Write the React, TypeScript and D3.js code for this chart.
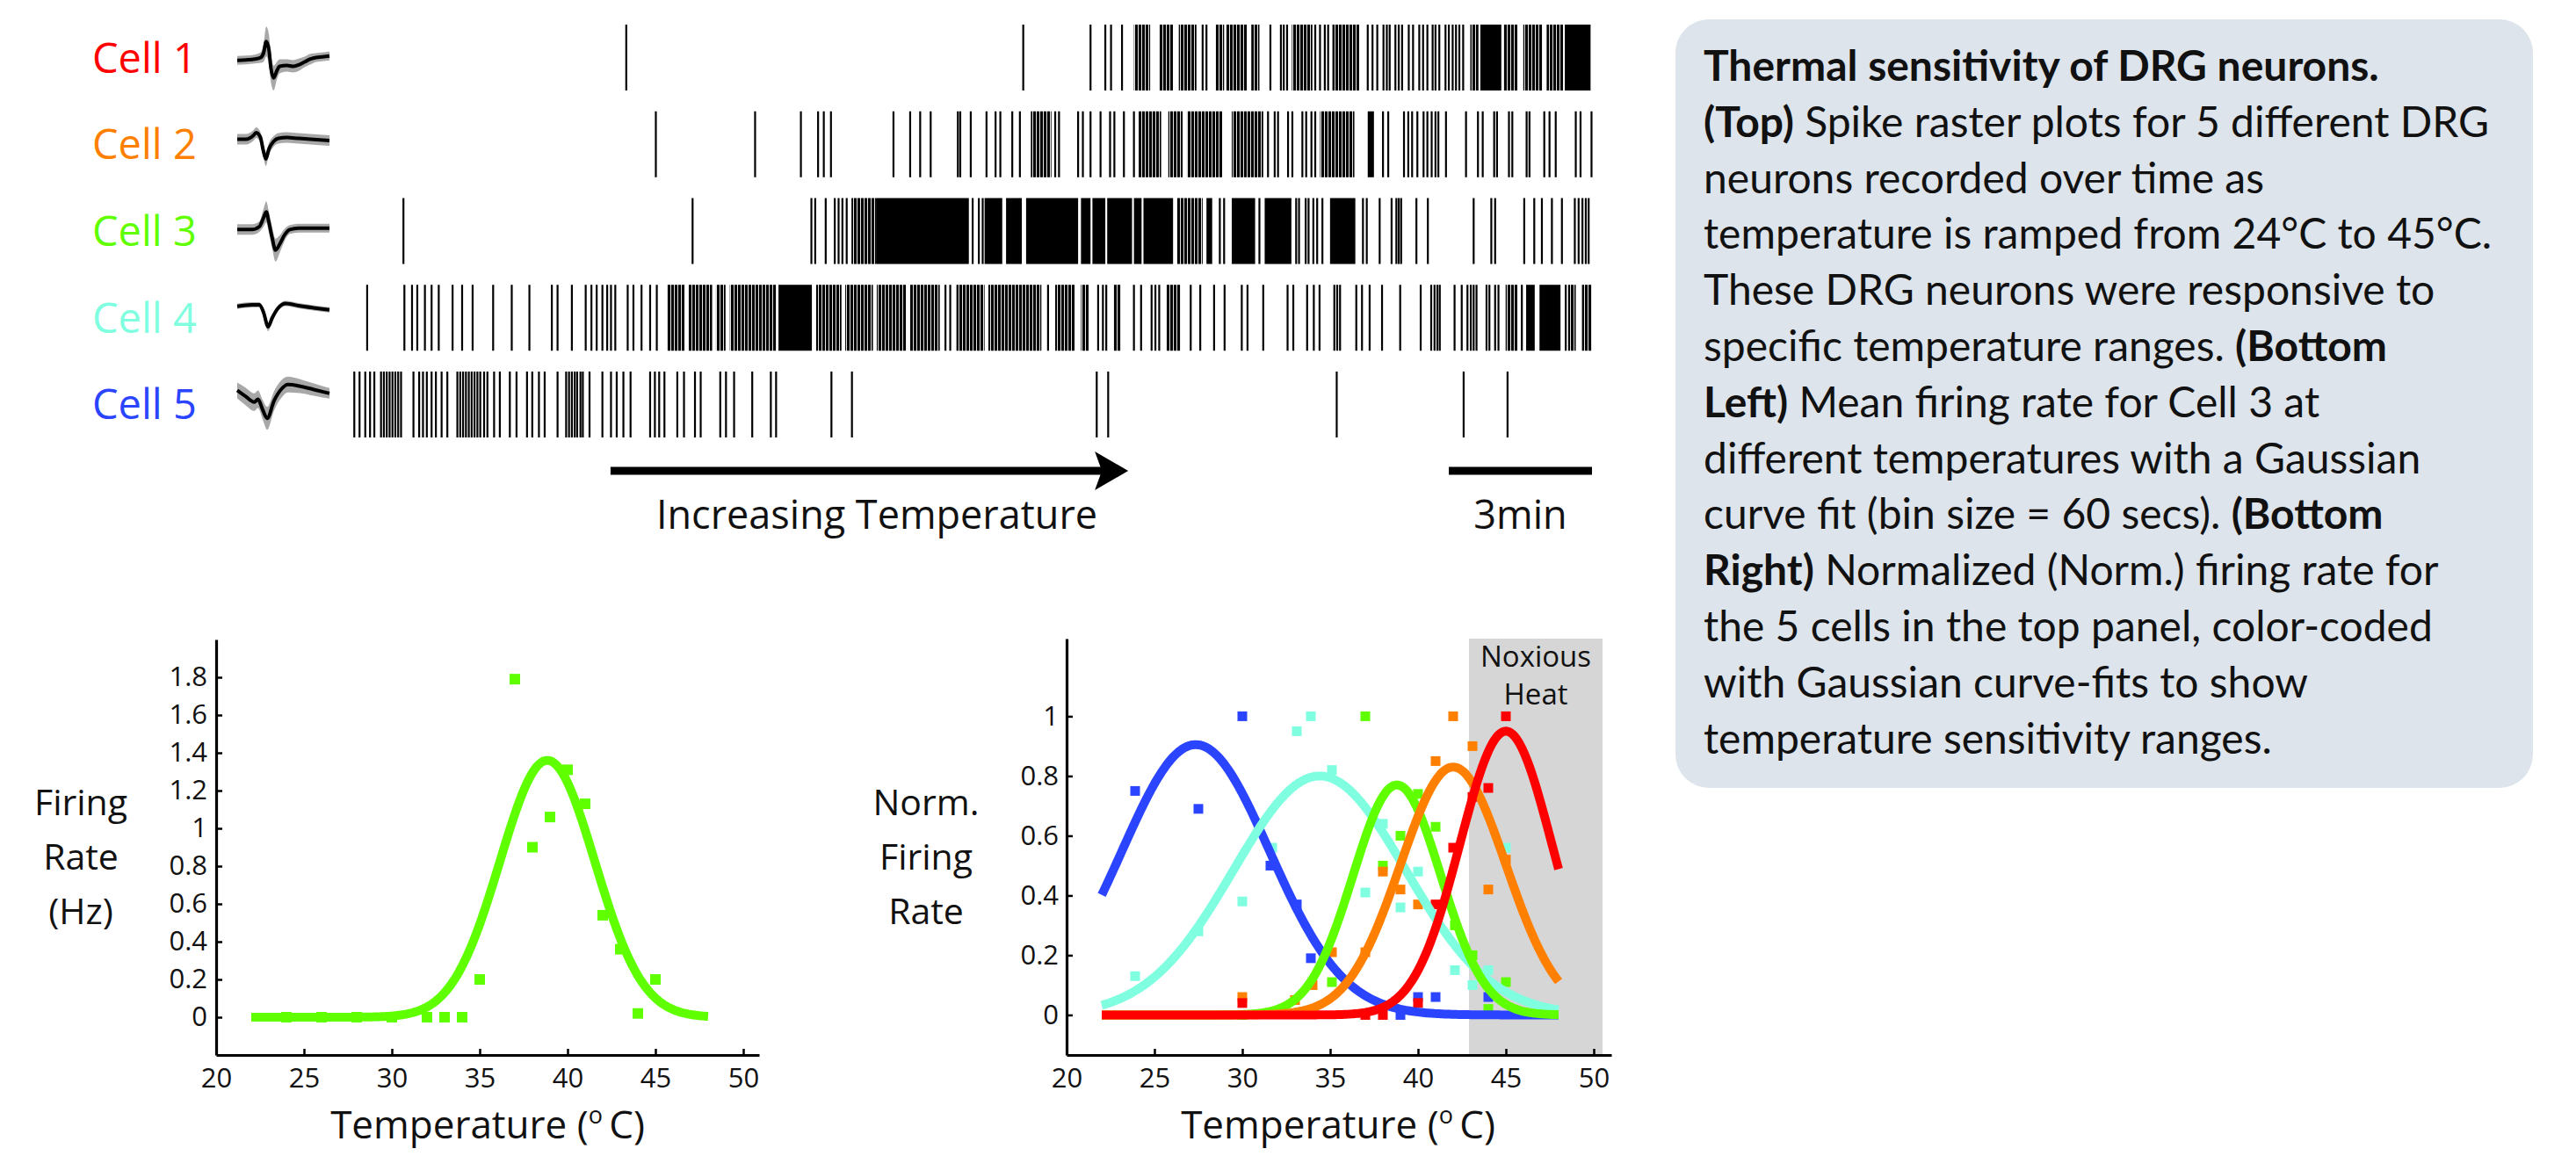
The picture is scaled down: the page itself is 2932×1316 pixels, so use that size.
import React, { useEffect, useRef } from "react";
import * as d3 from "d3";

// cells, colours
const cellNames = ["Cell 1", "Cell 2", "Cell 3", "Cell 4", "Cell 5"];
const cellColors = ["#ff0000", "#ff7f00", "#5fff00", "#7fffe0", "#2a44ff"];

// spike times (minutes) for the raster: single spikes, solid bursts and dense runs [start, end]
const cell1Spikes = [5.76, 14.08, 15.49, 15.8, 15.92, 16.15, 17.84, 17.92, 19.26, 19.48, 19.54, 19.61, 20.2, 20.3, 20.4, 20.47, 21.3, 21.4, 21.5, 21.63, 21.7, 21.76, 21.88, 21.95, 22.02, 22.16, 22.25, 22.38, 22.46, 22.55, 22.66, 22.72, 22.8, 22.93, 23.0, 23.08, 23.15, 23.22, 23.3];
const cell1Solid = [[23.66, 24.1], [25.43, 25.97]];
const cell1Dense = [[16.4, 16.74], [16.93, 17.22], [17.34, 17.71], [18.11, 18.29], [18.33, 18.78], [18.86, 19.03], [19.71, 20.14], [20.56, 21.12], [23.45, 23.62], [24.14, 24.44], [24.56, 24.96], [25.05, 25.4]];

const cell2Spikes = [6.38, 8.46, 9.42, 9.78, 9.9, 10.05, 11.36, 11.71, 11.92, 12.14, 12.71, 12.76, 12.98, 13.31, 13.5, 13.6, 13.85, 14.01, 14.75, 14.83, 15.23, 15.33, 15.49, 15.7, 15.9, 15.99, 16.19, 16.4, 19.21, 19.35, 19.42, 19.63, 19.72, 19.93, 20.01, 20.12, 20.2, 21.62, 21.73, 22.06, 22.15, 22.23, 22.34, 22.47, 22.55, 22.64, 22.72, 22.78, 22.94, 23.36, 23.61, 23.71, 23.95, 24.01, 24.26, 24.33, 24.63, 24.69, 25.0, 25.11, 25.24, 25.66, 25.76, 25.99];
const cell2Solid = [[21.3, 21.43]];
const cell2Dense = [[14.24, 14.67], [16.5, 16.97], [17.12, 17.42], [17.51, 18.25], [18.45, 19.11], [20.3, 21.02]];

const cell3Spikes = [1.09, 7.15, 9.64, 9.72, 9.94, 10.13, 10.21, 10.29, 10.38, 13.02, 13.15, 13.23, 18.2, 18.29, 19.03, 19.8, 19.86, 20.0, 20.06, 20.16, 20.24, 20.35, 21.2, 21.28, 21.55, 21.8, 21.9, 21.95, 22.0, 22.32, 22.56, 23.52, 23.89, 23.97, 24.58, 24.79, 24.95, 25.16, 25.37, 25.64, 25.72, 25.8, 25.87, 25.93];
const cell3Solid = [[11.01, 12.94], [13.27, 13.64], [13.72, 14.05], [14.14, 15.23], [15.29, 15.49], [15.53, 15.8], [15.84, 16.36], [16.4, 16.56], [16.6, 17.22], [17.92, 18.04], [18.45, 18.94], [19.14, 19.7], [20.51, 21.04]];
const cell3Dense = [[10.48, 11.01], [17.3, 17.84]];

const cell4Spikes = [0.33, 1.11, 1.27, 1.38, 1.54, 1.68, 1.83, 2.12, 2.32, 2.54, 2.97, 3.36, 3.73, 4.2, 4.32, 4.62, 4.91, 5.03, 5.14, 5.26, 5.36, 5.44, 5.53, 5.79, 5.91, 6.08, 6.26, 6.4, 12.45, 12.55, 14.6, 15.65, 15.75, 15.82, 16.4, 16.55, 16.77, 16.85, 16.93, 17.59, 17.79, 18.08, 18.3, 18.66, 18.78, 19.11, 19.62, 19.74, 20.03, 20.17, 20.29, 20.6, 20.66, 20.72, 21.06, 21.18, 21.34, 21.6, 21.98, 22.41, 22.63, 22.7, 22.76, 22.81, 23.12, 23.27, 23.39, 23.46, 23.52, 23.58, 23.79, 23.85, 23.97, 24.04, 24.53, 25.32, 25.45];
const cell4Solid = [[8.95, 9.65], [24.62, 24.8], [24.9, 25.3]];
const cell4Dense = [[6.61, 6.98], [7.06, 7.56], [7.64, 7.84], [7.93, 8.91], [9.74, 10.27], [10.35, 10.93], [11.01, 11.63], [11.71, 12.33], [12.68, 13.27], [13.35, 14.46], [14.75, 15.16], [15.29, 15.45], [15.97, 16.13], [17.08, 17.38], [24.19, 24.44], [25.5, 25.66], [25.79, 26.0]];

const cell5Spikes = [0.06, 0.17, 0.29, 0.39, 0.48, 0.62, 0.68, 0.74, 0.8, 0.86, 0.92, 0.98, 1.04, 1.3, 1.42, 1.5, 1.58, 1.68, 1.77, 1.89, 2.01, 2.22, 2.28, 2.34, 2.4, 2.46, 2.52, 2.58, 2.64, 2.7, 2.78, 2.85, 2.99, 3.11, 3.32, 3.46, 3.68, 3.79, 3.93, 4.05, 4.32, 4.5, 4.56, 4.62, 4.68, 4.73, 4.8, 4.85, 4.99, 5.26, 5.44, 5.56, 5.7, 5.85, 6.26, 6.36, 6.45, 6.56, 6.83, 6.97, 7.2, 7.32, 7.73, 7.85, 8.02, 8.4, 8.79, 8.9, 10.06, 10.49, 15.62, 15.86, 20.65, 23.31, 24.23];
const cell5Solid: number[][] = [];
const cell5Dense: number[][] = [];

const rasterSpikes = [cell1Spikes, cell2Spikes, cell3Spikes, cell4Spikes, cell5Spikes];
const rasterSolid = [cell1Solid, cell2Solid, cell3Solid, cell4Solid, cell5Solid];
const rasterDense = [cell1Dense, cell2Dense, cell3Dense, cell4Dense, cell5Dense];

// mean spike waveforms: [ms, amplitude, spread]
const wave1 = [[0, -3.3, 5], [0.19, -2.7, 5], [0.38, -1.7, 5], [0.51, 0, 6], [0.57, 5, 10], [0.63, 18.3, 17], [0.69, 8.3, 17], [0.73, -11.7, 16], [0.79, -23.3, 14], [0.86, -15, 10], [0.92, -10, 8], [1.08, -9, 7], [1.21, -10, 7], [1.33, -8.3, 7], [1.46, -5, 6], [1.59, -1.7, 6], [1.71, 0, 5], [1.84, 0.7, 5], [2, 1.7, 5]];
const wave2 = [[0, 5.7, 6], [0.19, 5.7, 6], [0.35, 10, 6], [0.41, 13.3, 6], [0.5, 8.3, 6], [0.57, -8.3, 7], [0.62, -16.7, 8], [0.69, -5, 7], [0.79, 3.3, 6], [0.89, 6.7, 6], [1.08, 7.7, 6], [1.33, 6.7, 6], [1.59, 5.7, 6], [2, 4.3, 6]];
const wave3 = [[0, 1.7, 6], [0.32, 1.7, 6], [0.48, 5, 6], [0.57, 15, 10], [0.63, 21.7, 12], [0.68, 11.7, 12], [0.76, -8.3, 12], [0.83, -21.7, 13], [0.92, -15, 10], [1.02, -5, 7], [1.14, 1.7, 5], [1.33, 3.3, 5], [1.59, 3.3, 5], [2, 3.3, 5]];
const wave4 = [[0, 13, 3], [0.32, 14.7, 3], [0.48, 14.7, 3], [0.57, 6.3, 4], [0.67, -10.3, 5], [0.76, 0, 4], [0.89, 11.3, 3], [1.05, 16.3, 3], [1.33, 13.7, 3], [1.65, 11.3, 3], [2, 9, 3]];
const wave5 = [[0, 16, 9], [0.18, 9.3, 10], [0.37, 2.7, 10], [0.45, 6, 10], [0.55, -5.7, 11], [0.65, -15.7, 13], [0.8, 4.3, 11], [0.96, 17.7, 10], [1.1, 22.7, 9], [1.35, 21, 8], [1.66, 17, 7], [2, 12.7, 6]];
const waveforms = [wave1, wave2, wave3, wave4, wave5];

// bottom left: cell 3 mean firing rate (temp, Hz) + gaussian fit
const cell3Rate = [[24, 0], [26, 0], [28, 0], [30, 0], [32, 0], [33, 0], [34, 0], [35, 0.2], [37, 1.79], [38, 0.9], [39, 1.06], [40, 1.31], [41, 1.13], [42, 0.54], [43, 0.36], [44, 0.02], [45, 0.2]];
const cell3Fit = { amp: 1.36, mean: 38.85, sigma: 2.7 };

// bottom right: normalized rates for the 5 cells
const normCell1 = [[45, 1.0], [44, 0.76], [43.1, 0.73], [42, 0.56], [41, 0.37], [40, 0.04], [30, 0.04], [38, 0], [37, 0]];
const normCell2 = [[42, 1.0], [43.1, 0.9], [41, 0.85], [45, 0.52], [38, 0.48], [39, 0.42], [44, 0.42], [40, 0.37], [37, 0.21], [35.1, 0.21], [34, 0.1], [30, 0.06], [33, 0.05]];
const normCell3 = [[37, 1.0], [40, 0.74], [41, 0.63], [39, 0.6], [38, 0.5], [42.1, 0.3], [43.1, 0.2], [35.1, 0.11], [45, 0.11], [44, 0.02], [30, 0]];
const normCell4 = [[33.9, 1.0], [33.1, 0.95], [35.1, 0.82], [31.7, 0.56], [30, 0.38], [27.5, 0.28], [23.9, 0.13], [38, 0.64], [37, 0.41], [40, 0.48], [39, 0.36], [42.1, 0.15], [43.1, 0.1], [44, 0.15], [45, 0.56]];
const normCell5 = [[30, 1.0], [23.9, 0.75], [27.5, 0.69], [31.6, 0.5], [33.1, 0.37], [33.9, 0.19], [40, 0.06], [41, 0.06], [39, 0], [44, 0.06]];
const normRates = [normCell1, normCell2, normCell3, normCell4, normCell5];
const normFitAmp = [0.95, 0.83, 0.77, 0.8, 0.905];
const normFitMean = [45.0, 42.0, 38.8, 34.4, 27.35];
const normFitSigma = [2.6, 3.0, 2.5, 4.9, 4.2];

const tempTicks = [20, 25, 30, 35, 40, 45, 50];
const rateTicks = [0, 0.2, 0.4, 0.6, 0.8, 1, 1.2, 1.4, 1.6, 1.8];
const normTicks = [0, 0.2, 0.4, 0.6, 0.8, 1];
const noxiousRange = [42.9, 50.5];

const captionLines: [string, boolean][][] = [
  [["Thermal sensitivity of DRG neurons.", true]],
  [["(Top)", true], [" Spike raster plots for 5 different DRG", false]],
  [["neurons recorded over time as", false]],
  [["temperature is ramped from 24°C to 45°C.", false]],
  [["These DRG neurons were responsive to", false]],
  [["specific temperature ranges. ", false], ["(Bottom", true]],
  [["Left)", true], [" Mean firing rate for Cell 3 at", false]],
  [["different temperatures with a Gaussian", false]],
  [["curve fit (bin size = 60 secs). ", false], ["(Bottom", true]],
  [["Right)", true], [" Normalized (Norm.) firing rate for", false]],
  [["the 5 cells in the top panel, color-coded", false]],
  [["with Gaussian curve-fits to show", false]],
  [["temperature sensitivity ranges.", false]],
];

const FONT = "'Open Sans', sans-serif";

const App = () => {
  const ref = useRef<SVGSVGElement>(null);

  useEffect(() => {
    document.body.style.margin = "0";
    const svg = d3.select(ref.current);
    svg.selectAll("*").remove();

    // striped fill for dense firing runs
    const pat = svg.append("defs").append("pattern")
      .attr("id", "denseRun")
      .attr("patternUnits", "userSpaceOnUse")
      .attr("width", 4)
      .attr("height", 10);
    pat.append("rect").attr("width", 3.1).attr("height", 10).attr("fill", "#000");

    // ---------- raster ----------
    const tScale = d3.scaleLinear().domain([0, 26]).range([400, 1812]);
    const rowScale = d3.scaleBand().domain(cellNames).range([28, 498]).paddingInner(0.24);
    const rowH = rowScale.bandwidth();

    cellNames.forEach((name, i) => {
      const y0 = rowScale(name)!;
      const cy = y0 + rowH / 2;
      const g = svg.append("g");
      g.append("g").selectAll("line")
        .data(rasterSpikes[i])
        .join("line")
        .attr("x1", (d) => tScale(d))
        .attr("x2", (d) => tScale(d))
        .attr("y1", y0)
        .attr("y2", y0 + rowH)
        .attr("stroke", "#000")
        .attr("stroke-width", 2.2);
      g.append("g").selectAll("rect")
        .data(rasterDense[i])
        .join("rect")
        .attr("x", (d) => tScale(d[0]))
        .attr("width", (d) => tScale(d[1]) - tScale(d[0]))
        .attr("y", y0)
        .attr("height", rowH)
        .attr("fill", "url(#denseRun)");
      g.append("g").selectAll("rect")
        .data(rasterSolid[i])
        .join("rect")
        .attr("x", (d) => tScale(d[0]))
        .attr("width", (d) => tScale(d[1]) - tScale(d[0]))
        .attr("y", y0)
        .attr("height", rowH)
        .attr("fill", "#000");

      // label
      svg.append("text")
        .attr("x", 105)
        .attr("y", cy + 17)
        .attr("fill", cellColors[i])
        .attr("font-family", FONT)
        .attr("font-size", 47)
        .text(name);

      // waveform
      const wfX = d3.scaleLinear().domain([0, 2]).range([270, 375]);
      const wfY = d3.scaleLinear().domain([-40, 40]).range([cy + 40, cy - 40]);
      const wf = waveforms[i];
      svg.append("path")
        .datum(wf)
        .attr("fill", "#a8a8a8")
        .attr("d", d3.area<number[]>()
          .x((d) => wfX(d[0]))
          .y0((d) => wfY(d[1] - d[2]))
          .y1((d) => wfY(d[1] + d[2]))
          .curve(d3.curveMonotoneX));
      svg.append("path")
        .datum(wf)
        .attr("fill", "none")
        .attr("stroke", "#000")
        .attr("stroke-width", 4)
        .attr("stroke-linejoin", "round")
        .attr("d", d3.line<number[]>()
          .x((d) => wfX(d[0]))
          .y((d) => wfY(d[1]))
          .curve(d3.curveMonotoneX));
    });

    // arrow + scale bar
    const arrowY = 536;
    svg.append("line")
      .attr("x1", tScale(5.43)).attr("x2", tScale(16.0))
      .attr("y1", arrowY).attr("y2", arrowY)
      .attr("stroke", "#000").attr("stroke-width", 9);
    const tip = tScale(16.28);
    svg.append("path")
      .attr("d", `M${tip},${arrowY} L${tip - 38},${arrowY - 22} L${tip - 30},${arrowY} L${tip - 38},${arrowY + 22} Z`)
      .attr("fill", "#000");
    svg.append("line")
      .attr("x1", tScale(23)).attr("x2", tScale(26))
      .attr("y1", arrowY).attr("y2", arrowY)
      .attr("stroke", "#000").attr("stroke-width", 9);
    svg.append("text")
      .attr("x", 998).attr("y", 602)
      .attr("text-anchor", "middle")
      .attr("font-family", FONT).attr("font-size", 45)
      .attr("fill", "#111")
      .text("Increasing Temperature");
    svg.append("text")
      .attr("x", tScale(24.5)).attr("y", 602)
      .attr("text-anchor", "middle")
      .attr("font-family", FONT).attr("font-size", 45)
      .attr("fill", "#111")
      .text("3min");

    // ---------- shared axis helpers ----------
    const styleAxis = (g: any) => {
      g.select(".domain").attr("stroke", "#000").attr("stroke-width", 3.2);
      g.selectAll(".tick line").attr("stroke", "#000").attr("stroke-width", 2.5);
      g.selectAll(".tick text")
        .attr("font-family", FONT)
        .attr("font-size", 31)
        .attr("fill", "#111");
      g.attr("font-family", null).attr("font-size", null);
    };

    const tempLabel = (cx: number) => {
      const t = svg.append("text")
        .attr("x", cx).attr("y", 1296)
        .attr("text-anchor", "middle")
        .attr("font-family", FONT).attr("font-size", 44)
        .attr("fill", "#111");
      t.append("tspan").text("Temperature (");
      t.append("tspan").attr("font-size", 27).attr("dy", -17).text("o");
      t.append("tspan").attr("dy", 17).text("\u2009C)");
    };

    const multiLabel = (cx: number, lines: string[]) => {
      lines.forEach((s, k) => {
        svg.append("text")
          .attr("x", cx).attr("y", 928 + k * 62)
          .attr("text-anchor", "middle")
          .attr("font-family", FONT).attr("font-size", 41)
          .attr("fill", "#111")
          .text(s);
      });
    };

    // ---------- bottom left ----------
    const xL = d3.scaleLinear().domain([20, 50.9]).range([246, 864]);
    const yL = d3.scaleLinear().domain([-0.2, 2.0]).range([1201, 728]);
    const fitTemps = d3.range(22, 48.001, 0.1);

    svg.append("g")
      .attr("transform", `translate(0,${yL.range()[0]})`)
      .call(d3.axisBottom(xL).tickValues(tempTicks).tickSizeInner(-7).tickSizeOuter(0).tickPadding(15))
      .call(styleAxis);
    svg.append("g")
      .attr("transform", `translate(${xL.range()[0]},0)`)
      .call(d3.axisLeft(yL).tickValues(rateTicks).tickFormat(d3.format("~g") as any).tickSizeInner(-7).tickSizeOuter(0).tickPadding(10))
      .call(styleAxis);

    svg.append("g")
      .selectAll("rect")
      .data(cell3Rate)
      .join("rect")
      .attr("x", (d) => xL(d[0]) - 6)
      .attr("y", (d) => yL(d[1]) - 6)
      .attr("width", 12)
      .attr("height", 12)
      .attr("fill", cellColors[2]);
    svg.append("path")
      .datum(fitTemps)
      .attr("fill", "none")
      .attr("stroke", cellColors[2])
      .attr("stroke-width", 10)
      .attr("d", d3.line<number>()
        .x((t) => xL(t))
        .y((t) => yL(cell3Fit.amp * Math.exp(-((t - cell3Fit.mean) ** 2) / (2 * cell3Fit.sigma ** 2)))));

    multiLabel(92, ["Firing", "Rate", "(Hz)"]);
    tempLabel(555);

    // ---------- bottom right ----------
    const xR = d3.scaleLinear().domain([20, 51]).range([1214, 1834]);
    const yR = d3.scaleLinear().domain([-0.134, 1.26]).range([1201, 727]);

    svg.append("rect")
      .attr("x", xR(noxiousRange[0]))
      .attr("width", xR(noxiousRange[1]) - xR(noxiousRange[0]))
      .attr("y", yR.range()[1])
      .attr("height", yR.range()[0] - yR.range()[1])
      .attr("fill", "#d6d6d6");
    const noxX = (xR(noxiousRange[0]) + xR(noxiousRange[1])) / 2;
    ["Noxious", "Heat"].forEach((s, k) => {
      svg.append("text")
        .attr("x", noxX).attr("y", 759 + k * 43)
        .attr("text-anchor", "middle")
        .attr("font-family", FONT).attr("font-size", 33)
        .attr("fill", "#111")
        .text(s);
    });

    svg.append("g")
      .attr("transform", `translate(0,${yR.range()[0]})`)
      .call(d3.axisBottom(xR).tickValues(tempTicks).tickSizeInner(-7).tickSizeOuter(0).tickPadding(15))
      .call(styleAxis);
    svg.append("g")
      .attr("transform", `translate(${xR.range()[0]},0)`)
      .call(d3.axisLeft(yR).tickValues(normTicks).tickFormat(d3.format("~g") as any).tickSizeInner(-7).tickSizeOuter(0).tickPadding(9))
      .call(styleAxis);

    // points first, then fitted curves (blue -> red, red on top)
    const order = [4, 3, 2, 1, 0];
    order.forEach((i) => {
      svg.append("g")
        .selectAll("rect")
        .data(normRates[i])
        .join("rect")
        .attr("x", (d) => xR(d[0]) - 5.5)
        .attr("y", (d) => yR(d[1]) - 5.5)
        .attr("width", 11)
        .attr("height", 11)
        .attr("fill", cellColors[i]);
    });
    order.forEach((i) => {
      svg.append("path")
        .datum(fitTemps)
        .attr("fill", "none")
        .attr("stroke", cellColors[i])
        .attr("stroke-width", 10)
        .attr("d", d3.line<number>()
          .x((t) => xR(t))
          .y((t) => yR(normFitAmp[i] * Math.exp(-((t - normFitMean[i]) ** 2) / (2 * normFitSigma[i] ** 2)))));
    });

    multiLabel(1054, ["Norm.", "Firing", "Rate"]);
    tempLabel(1523);

    // ---------- caption box ----------
    svg.append("rect")
      .attr("x", 1907).attr("y", 22)
      .attr("width", 976).attr("height", 875)
      .attr("rx", 38)
      .attr("fill", "#dde4eb");
    captionLines.forEach((segs, k) => {
      const t = svg.append("text")
        .attr("x", 1939)
        .attr("y", 92 + k * 63.8)
        .attr("font-family", "Lato, 'Open Sans', sans-serif")
        .attr("font-size", 48)
        .attr("fill", "#111")
        .style("white-space", "pre");
      segs.forEach(([s, b]) => {
        t.append("tspan").attr("font-weight", b ? "bold" : "normal").text(s);
      });
    });
  }, []);

  return <svg ref={ref} width={2932} height={1316} style={{ display: "block" }} />;
};

export default App;
